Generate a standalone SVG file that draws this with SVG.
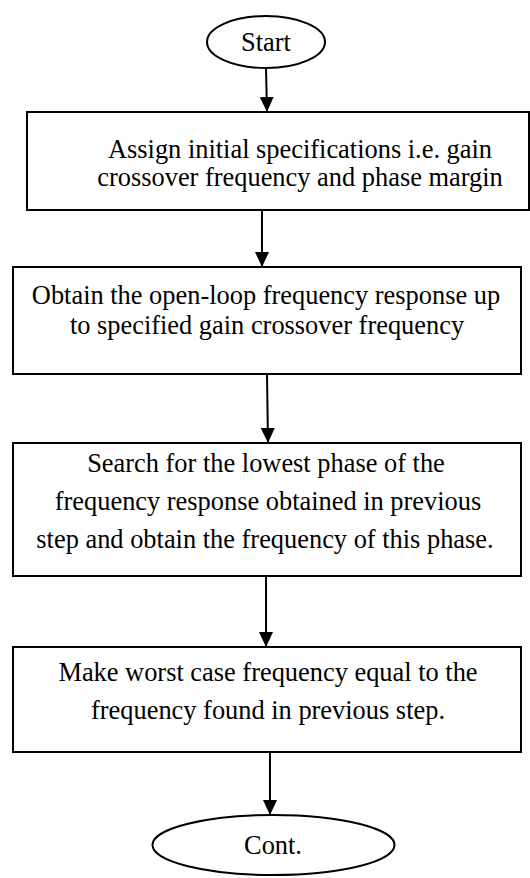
<svg xmlns="http://www.w3.org/2000/svg" width="530" height="878" viewBox="0 0 530 878">
<style>
.shape{fill:#fff;stroke:#000;stroke-width:2}
.t{font-family:'Liberation Serif','Tinos','Times New Roman','DejaVu Serif',serif;font-size:26.4px;fill:#000;text-anchor:middle}
.conn{stroke:#000;stroke-width:2;fill:none;marker-end:url(#ah)}
</style>
<defs>
<marker id="ah" markerUnits="userSpaceOnUse" markerWidth="15" markerHeight="14" refX="15" refY="7" orient="auto">
<path d="M0,0 L15,7 L0,14 z" fill="#000"/>
</marker>
</defs>
<rect width="530" height="878" fill="#fff"/>
<g id="connectors">
<line class="conn" x1="266" y1="68" x2="267" y2="112"/>
<line class="conn" x1="262" y1="210" x2="262" y2="267"/>
<line class="conn" x1="267" y1="374" x2="268" y2="443"/>
<line class="conn" x1="266" y1="576" x2="266" y2="647"/>
<line class="conn" x1="270" y1="752" x2="270" y2="815"/>
</g>
<g id="start">
<ellipse class="shape" cx="266" cy="42" rx="59" ry="26"/>
<text class="t" x="266" y="51">Start</text>
</g>
<g id="box1">
<rect class="shape" x="27" y="112" width="502" height="98"/>
<text class="t" x="300" y="158">Assign initial specifications i.e. gain</text>
<text class="t" x="300" y="186">crossover frequency and phase margin</text>
</g>
<g id="box2">
<rect class="shape" x="13" y="267" width="508" height="107"/>
<text class="t" x="266" y="304">Obtain the open-loop frequency response up</text>
<text class="t" x="267" y="334">to specified gain crossover frequency</text>
</g>
<g id="box3">
<rect class="shape" x="13" y="443" width="508" height="133"/>
<text class="t" x="266" y="472">Search for the lowest phase of the</text>
<text class="t" x="268" y="510">frequency response obtained in previous</text>
<text class="t" x="265" y="548">step and obtain the frequency of this phase.</text>
</g>
<g id="box4">
<rect class="shape" x="13" y="647" width="508" height="105"/>
<text class="t" x="268" y="681">Make worst case frequency equal to the</text>
<text class="t" x="268" y="719">frequency found in previous step.</text>
</g>
<g id="cont">
<ellipse class="shape" cx="273.5" cy="845" rx="121" ry="30"/>
<text class="t" x="273" y="854">Cont.</text>
</g>
</svg>
